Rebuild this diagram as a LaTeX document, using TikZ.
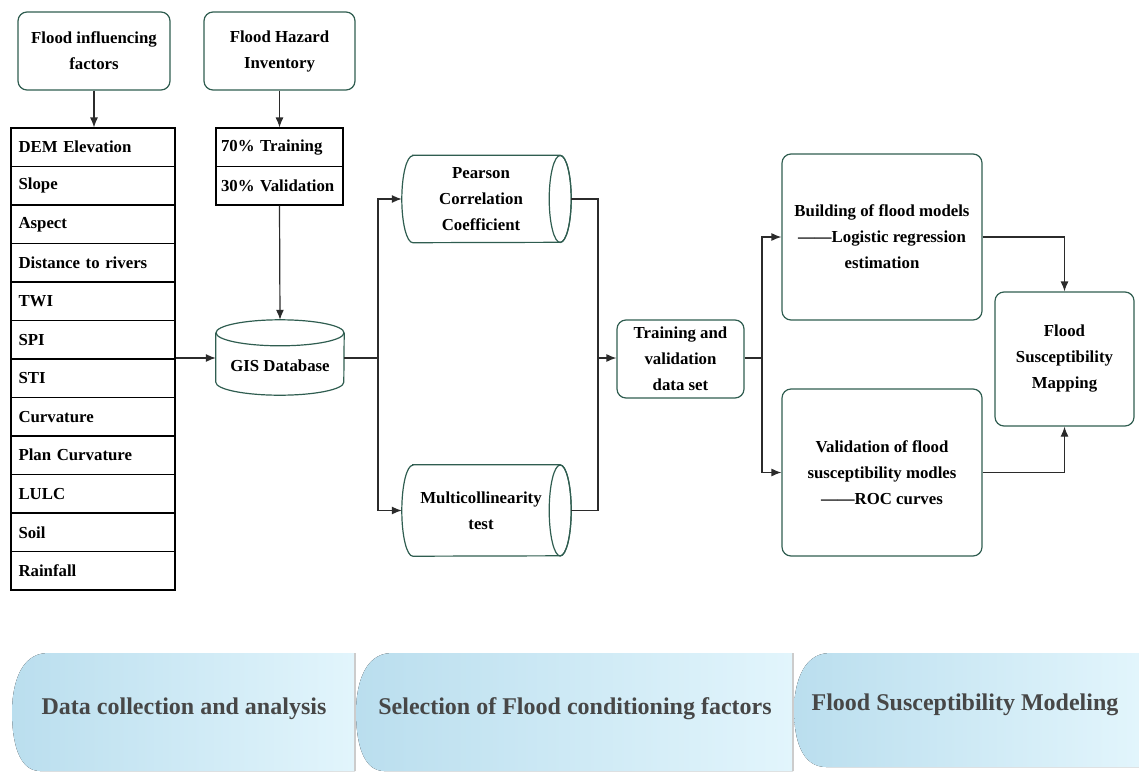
\documentclass[tikz,border=0pt]{standalone}
\usepackage{fontspec}
\setmainfont{Liberation Serif}
\usetikzlibrary{arrows.meta}
\definecolor{boxgreen}{HTML}{2F5D50}
\definecolor{linegray}{HTML}{2B2B2B}
\definecolor{bandleft}{HTML}{BADEEE}
\definecolor{bandright}{HTML}{E2F5FC}
\definecolor{bandtext}{HTML}{474747}
\tikzset{%
    rbox/.style={draw=boxgreen, line width=1.2pt, rounded corners=9pt, align=center,
        font=\fontsize{16.8}{26}\selectfont\bfseries},
    cell/.style={draw=black, line width=1.1pt, minimum height=38.5pt, inner sep=0pt,
        font=\fontsize{16.8}{20}\selectfont\bfseries},
    cyl/.style={align=center, inner sep=0pt,
        font=\fontsize{16.8}{26}\selectfont\bfseries},
    cylline/.style={draw=boxgreen, line width=1.2pt},
    arr/.style={draw=linegray, line width=1.2pt, -{Latex[length=10pt,width=8pt]}},
    ln/.style={draw=linegray, line width=1.2pt},
    band/.style={left color=bandleft, right color=bandright, draw=none},
    bandlabel/.style={text=bandtext, font=\fontsize{24}{26}\selectfont\bfseries}
}

\begin{document}
\begin{tikzpicture}[x=1pt, y=-1pt]
\useasboundingbox (0,0) rectangle (1139,771);

% top boxes
\node[rbox, minimum width=152pt, minimum height=78pt] (IF) at (94,51) {Flood influencing\\factors};
\node[rbox, minimum width=151pt, minimum height=78pt] (HI) at (279.5,51) {Flood Hazard\\Inventory};

% list of factors
\foreach \lab [count=\i] in {DEM Elevation, Slope, Aspect, Distance to rivers, TWI, SPI, STI,
    Curvature, Plan Curvature, LULC, Soil, Rainfall}
    \node[cell, minimum width=164pt, text width=149pt, align=left] (L\i) at (93,{128+38.5*(\i-0.5)}) {\lab};

% inventory split
\node[cell, minimum width=127pt, text width=117pt, align=left] (T1) at (279.5,147.25) {70\% Training};
\node[cell, minimum width=127pt, text width=117pt, align=left] (T2) at (279.5,185.75) {30\% Validation};

% database
\node[cyl, minimum width=128pt, minimum height=58pt] (GIS) at (280,366) {GIS Database};
\draw[cylline] ([yshift=4pt]GIS.north west) -- ([yshift=13pt]GIS.south west)
    arc[start angle=180, end angle=360, x radius=64pt, y radius=13pt] -- ([yshift=4pt]GIS.north east);
\draw[cylline] ([yshift=4pt]GIS.north) circle[x radius=64pt, y radius=13pt];

% selection of factors
\node[cyl, minimum width=158pt, minimum height=87pt] (PC) at (481,199) {Pearson\\Correlation\\Coefficient};
\draw[cylline] ([xshift=11pt]PC.north west) -- (PC.north east)
    arc[start angle=90, end angle=-90, x radius=11pt, y radius=43.5pt] -- ([xshift=11pt]PC.south west)
    arc[start angle=270, end angle=90, x radius=11pt, y radius=43.5pt] -- cycle;
\draw[cylline] (PC.east) circle[x radius=11pt, y radius=43.5pt];

\node[cyl, minimum width=158pt, minimum height=91pt] (MT) at (481,510.5) {Multicollinearity\\test};
\draw[cylline] ([xshift=11pt]MT.north west) -- (MT.north east)
    arc[start angle=90, end angle=-90, x radius=11pt, y radius=45.5pt] -- ([xshift=11pt]MT.south west)
    arc[start angle=270, end angle=90, x radius=11pt, y radius=45.5pt] -- cycle;
\draw[cylline] (MT.east) circle[x radius=11pt, y radius=45.5pt];

% modelling
\node[rbox, minimum width=127pt, minimum height=78pt] (TD) at (680.5,359) {Training and\\validation\\data set};
\node[rbox, minimum width=200pt, minimum height=166pt] (BM) at (882,237) {Building of flood models\\------Logistic regression\\estimation};
\node[rbox, minimum width=200pt, minimum height=167pt] (VM) at (882,472.5) {Validation of flood\\susceptibility modles\\------ROC curves};
\node[rbox, minimum width=139pt, minimum height=134pt] (FSM) at (1064.5,359) {Flood\\Susceptibility\\Mapping};

\coordinate (J1) at (378,358);
\coordinate (J2) at (598,358);
\coordinate (J3) at (762,358);

% top boxes to lists
\draw[arr] (IF.south) -- (IF.south |- L1.north);
\draw[arr] (HI.south) -- (HI.south |- T1.north);
% lists to GIS
\draw[arr] (T2.south) -- ([yshift=17pt]GIS.north);
\draw[arr] (L7.east |- J1) -- (GIS.west |- J1);
% GIS to selection
\draw[ln] (GIS.east |- J1) -- (J1);
\draw[arr] (J1) |- (PC.west);
\draw[arr] (J1) |- (MT.west);
% selection to data set
\draw[ln] ([xshift=11pt]PC.east) -| (J2);
\draw[ln] ([xshift=11pt]MT.east) -| (J2);
\draw[arr] (J2) -- (TD.west |- J2);
% data set to models
\draw[ln] (TD.east |- J3) -- (J3);
\draw[arr] (J3) |- (BM.west);
\draw[arr] (J3) |- (VM.west);
% models to mapping
\draw[arr] (BM.east) -| (FSM.north);
\draw[arr] (VM.east) -| (FSM.south);

% stage bands
\fill[band] (355,653) -- (48,653) .. controls (18,653) and (12,690) .. (12,712)
    .. controls (12,740) and (18,771) .. (40,771) -- (355,771) -- cycle;
\fill[band] (793,653) -- (392,653) .. controls (362,653) and (356,690) .. (356,712)
    .. controls (356,740) and (362,771) .. (384,771) -- (793,771) -- cycle;
\fill[band] (1139,653) -- (830,653) .. controls (800,653) and (794,690) .. (794,710)
    .. controls (794,740) and (802,767) .. (826,767) -- (1139,767) -- cycle;
\draw[gray!40, line width=1.2pt] (355,653) -- (355,771) (793,653) -- (793,771);

\node[bandlabel] (S1) at (184,709) {Data collection and analysis};
\node[bandlabel] (S2) at (575,709) {Selection of Flood conditioning factors};
\node[bandlabel] (S3) at (965,705) {Flood Susceptibility Modeling};
\end{tikzpicture}
\end{document}
